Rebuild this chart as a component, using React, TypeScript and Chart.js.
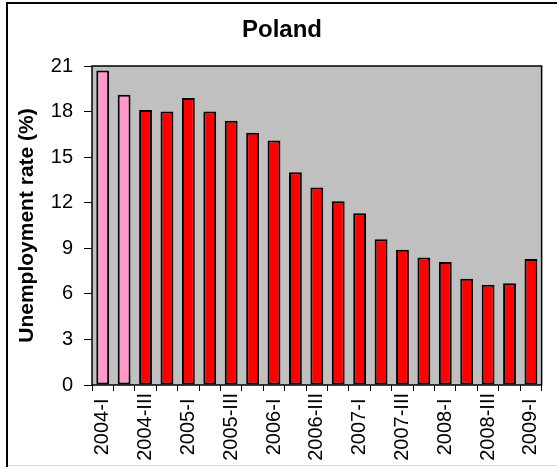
import React, { useEffect, useRef } from "react";
import { Chart, registerables } from "chart.js";

Chart.register(...registerables);

const categories = [
  "2004-I", "2004-II", "2004-III", "2004-IV",
  "2005-I", "2005-II", "2005-III", "2005-IV",
  "2006-I", "2006-II", "2006-III", "2006-IV",
  "2007-I", "2007-II", "2007-III", "2007-IV",
  "2008-I", "2008-II", "2008-III", "2008-IV",
  "2009-I",
];
const unemploymentRate = [
  20.7, 19.1, 18.1, 18.0,
  18.9, 18.0, 17.4, 16.6,
  16.1, 14.0, 13.0, 12.1,
  11.3, 9.6, 8.9, 8.4,
  8.1, 7.0, 6.6, 6.7,
  8.3,
];
const highlightedCount = 2;
const yMin = 0;
const yMax = 21;
const yStep = 3;
const chartTitle = "Poland";
const yAxisTitle = "Unemployment rate (%)";

const FONT = '"Liberation Sans", Arial, sans-serif';

const framePlugin = {
  id: "frame",
  beforeDraw(chart: any) {
    const { ctx, chartArea: a } = chart;
    ctx.save();
    ctx.fillStyle = "#ffffff";
    ctx.fillRect(0, 0, chart.width, chart.height);
    ctx.strokeStyle = "#000000";
    ctx.lineWidth = 2;
    ctx.beginPath();
    ctx.moveTo(7, chart.height);
    ctx.lineTo(7, 3);
    ctx.lineTo(chart.width, 3);
    ctx.stroke();
    ctx.strokeStyle = "#d8d8d8";
    ctx.lineWidth = 1;
    ctx.beginPath();
    ctx.moveTo(8, chart.height - 1.5);
    ctx.lineTo(chart.width, chart.height - 1.5);
    ctx.stroke();
    ctx.fillStyle = "#C0C0C0";
    ctx.fillRect(a.left, a.top, a.right - a.left, a.bottom - a.top);
    ctx.strokeStyle = "#000000";
    ctx.lineWidth = 1.5;
    ctx.strokeRect(a.left, a.top, a.right - a.left, a.bottom - a.top);
    ctx.restore();
  },
};

export default function App() {
  const ref = useRef<HTMLCanvasElement | null>(null);

  useEffect(() => {
    if (!ref.current) return;
    const chart = new Chart(ref.current, {
      type: "bar",
      data: {
        labels: categories,
        datasets: [
          {
            data: unemploymentRate,
            backgroundColor: unemploymentRate.map((_, i) =>
              i < highlightedCount ? "#FF99CC" : "#FF0000"
            ),
            borderColor: "#000000",
            borderWidth: 2,
            borderSkipped: false,
            barPercentage: 0.6,
            categoryPercentage: 1,
          },
        ],
      },
      options: {
        responsive: false,
        animation: false,
        devicePixelRatio: 1,
        layout: { padding: { left: 10, right: 3, top: 0, bottom: 0 } },
        plugins: {
          legend: { display: false },
          tooltip: { enabled: false },
          title: {
            display: true,
            text: chartTitle,
            color: "#000000",
            font: { family: FONT, size: 24, weight: "bold", lineHeight: 1.2 },
            padding: { top: 16, bottom: 21.2 },
          },
        },
        scales: {
          x: {
            afterFit: (scale: any) => {
              scale.height = 82;
            },
            grid: {
              display: true,
              drawOnChartArea: false,
              drawTicks: true,
              tickLength: 6,
              color: "#000000",
              lineWidth: 1,
              offset: true,
            },
            border: { display: false },
            ticks: {
              autoSkip: false,
              minRotation: 90,
              maxRotation: 90,
              padding: 2,
              color: "#000000",
              font: { family: FONT, size: 20 },
              callback: function (this: any, value: any, index: number) {
                if (index % 2 !== 0) return "";
                const lbl = String(this.getLabelForValue(value));
                // centre short labels like the original (Excel centres rotated labels)
                return lbl.endsWith("-I") ? lbl + " " : lbl;
              },
            },
          },
          y: {
            min: yMin,
            max: yMax,
            afterFit: (scale: any) => {
              scale.width = 82;
            },
            grid: {
              display: true,
              drawOnChartArea: false,
              drawTicks: true,
              tickLength: 8,
              color: "#000000",
              lineWidth: 1,
            },
            border: { display: false },
            ticks: {
              stepSize: yStep,
              padding: 11,
              color: "#000000",
              font: { family: FONT, size: 20 },
            },
            title: {
              display: true,
              text: yAxisTitle,
              color: "#000000",
              font: { family: FONT, size: 21, weight: "bold", lineHeight: 1.2 },
              padding: { top: 4.4, bottom: 0 },
            },
          },
        },
      },
      plugins: [framePlugin],
    });
    return () => chart.destroy();
  }, []);

  return (
    <div style={{ position: "absolute", left: 0, top: 0, width: 557, height: 467 }}>
      <canvas ref={ref} width={557} height={467} style={{ display: "block" }} />
    </div>
  );
}
